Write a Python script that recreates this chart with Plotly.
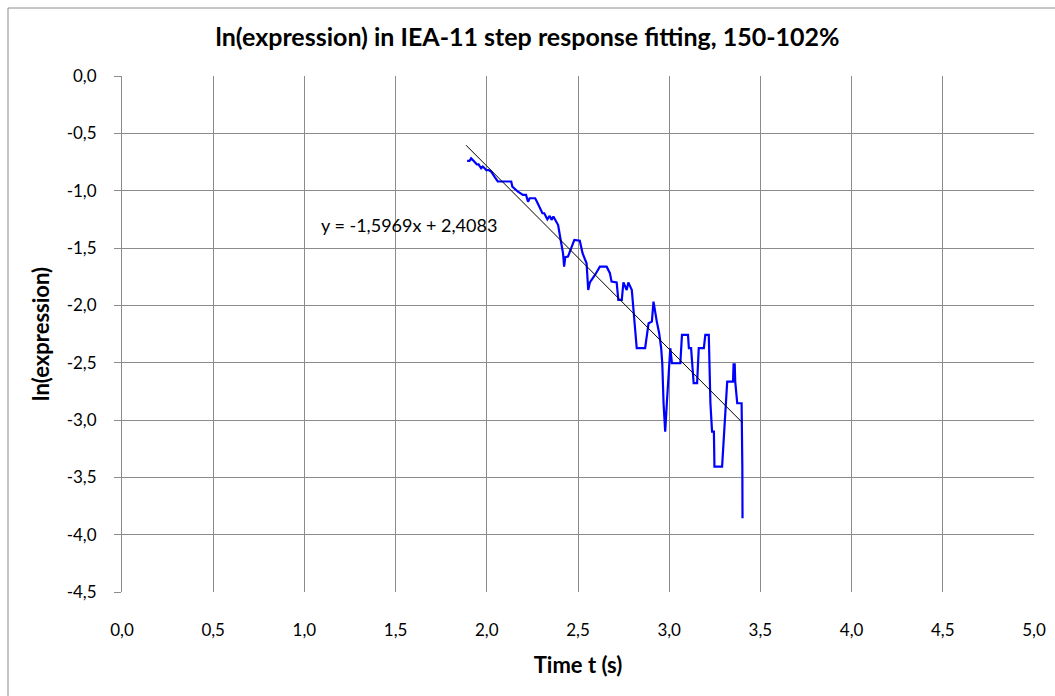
import plotly.graph_objects as go

# Measured series (time in s, ln(expression))
time_s = [1.892, 1.905, 1.914, 1.925, 1.935, 1.945, 1.955, 1.969, 1.978, 1.988,
          1.997, 2.010, 2.024, 2.042, 2.060, 2.134, 2.140, 2.171, 2.198, 2.215,
          2.226, 2.235, 2.265, 2.275, 2.290, 2.305, 2.315, 2.332, 2.345, 2.355,
          2.365, 2.375, 2.391, 2.405, 2.418, 2.424, 2.430, 2.445, 2.465, 2.480,
          2.510, 2.525, 2.547, 2.556, 2.565, 2.575, 2.593, 2.620, 2.657, 2.675,
          2.684, 2.712, 2.721, 2.740, 2.749, 2.767, 2.776, 2.795, 2.813, 2.822,
          2.868, 2.887, 2.905, 2.914, 2.932, 2.945, 2.956, 2.962, 2.969, 2.978,
          2.987, 2.993, 3.006, 3.015, 3.061, 3.070, 3.103, 3.108, 3.120, 3.134,
          3.153, 3.162, 3.190, 3.198, 3.217, 3.226, 3.235, 3.245, 3.248, 3.290,
          3.300, 3.308, 3.318, 3.350, 3.353, 3.356, 3.359, 3.362, 3.373, 3.397,
          3.400, 3.401, 3.402]
ln_expr = [-0.741, -0.741, -0.718, -0.741, -0.752, -0.770, -0.770, -0.805, -0.790, -0.805,
           -0.820, -0.820, -0.834, -0.878, -0.920, -0.920, -0.965, -1.009, -1.037, -1.037,
           -1.096, -1.066, -1.066, -1.096, -1.154, -1.197, -1.197, -1.250, -1.220, -1.255,
           -1.225, -1.255, -1.300, -1.430, -1.546, -1.663, -1.580, -1.575, -1.488, -1.430,
           -1.436, -1.546, -1.633, -1.866, -1.800, -1.778, -1.735, -1.663, -1.663, -1.720,
           -1.793, -1.800, -1.953, -1.953, -1.800, -1.866, -1.800, -1.866, -2.243, -2.374,
           -2.374, -2.156, -2.142, -1.968, -2.142, -2.243, -2.374, -2.505, -2.854, -3.101,
           -2.854, -2.679, -2.374, -2.505, -2.505, -2.258, -2.258, -2.374, -2.374, -2.679,
           -2.679, -2.374, -2.374, -2.258, -2.258, -2.854, -3.101, -3.101, -3.406, -3.406,
           -3.101, -2.868, -2.665, -2.665, -2.505, -2.665, -2.505, -2.665, -2.854, -2.854,
           -3.101, -3.406, -3.856]

# Linear trendline y = -1,5969x + 2,4083
trend_slope = -1.5969
trend_intercept = 2.4083
trend_x = [1.886, 3.402]
trend_y = [trend_slope * x + trend_intercept for x in trend_x]

x_ticks = [0.0, 0.5, 1.0, 1.5, 2.0, 2.5, 3.0, 3.5, 4.0, 4.5, 5.0]
x_tick_labels = ["0,0", "0,5", "1,0", "1,5", "2,0", "2,5", "3,0", "3,5", "4,0", "4,5", "5,0"]
y_ticks = [0.0, -0.5, -1.0, -1.5, -2.0, -2.5, -3.0, -3.5, -4.0, -4.5]
y_tick_labels = ["0,0", "-0,5", "-1,0", "-1,5", "-2,0", "-2,5", "-3,0", "-3,5", "-4,0", "-4,5"]

FONT = "Lato, sans-serif"
GRID = "#8c8c8c"

fig = go.Figure()
fig.add_trace(go.Scatter(x=time_s, y=ln_expr, mode="lines",
                         line=dict(color="#0000ff", width=2.2), showlegend=False))
fig.add_trace(go.Scatter(x=trend_x, y=trend_y, mode="lines",
                         line=dict(color="#000000", width=1), showlegend=False))

fig.update_layout(
    width=1055, height=696,
    margin=dict(l=122, r=21, t=76, b=104, autoexpand=False),
    paper_bgcolor="white", plot_bgcolor="white",
    font=dict(family=FONT, size=17, color="#000000"),
    title=dict(text="<b>ln(expression) in IEA-11 step response fitting, 150-102%</b>",
               x=0.5, xanchor="center", y=0.947, yanchor="middle",
               font=dict(family=FONT, size=25)),
    xaxis=dict(range=[0, 5], tickvals=x_ticks, ticktext=x_tick_labels,
               showgrid=True, gridcolor=GRID, gridwidth=1,
               showline=False, zeroline=False, ticks="",
               ticklabelstandoff=26, automargin=False,
               title=dict(text="<b>Time t (s)</b>", font=dict(size=22), standoff=18)),
    yaxis=dict(range=[-4.5, 0], tickvals=y_ticks, ticktext=y_tick_labels,
               showgrid=True, gridcolor=GRID, gridwidth=1,
               showline=True, linecolor=GRID, zeroline=False,
               ticks="outside", ticklen=7, tickcolor=GRID,
               ticklabelstandoff=14, automargin=False,
               title=dict(text="<b>ln(expression)</b>", font=dict(size=22), standoff=10)),
    annotations=[dict(x=1.572, y=-1.3, xref="x", yref="y", showarrow=False,
                      text="y = -1,5969x + 2,4083", font=dict(size=18))],
    shapes=[dict(type="rect", xref="paper", yref="paper",
                 x0=(8 - 122) / 912, x1=(1060 - 122) / 912,
                 y0=(592 - 700) / 516, y1=(592 - 8) / 516,
                 line=dict(color="#8c8c8c", width=1), layer="below")],
)

fig.write_html("out.html")
